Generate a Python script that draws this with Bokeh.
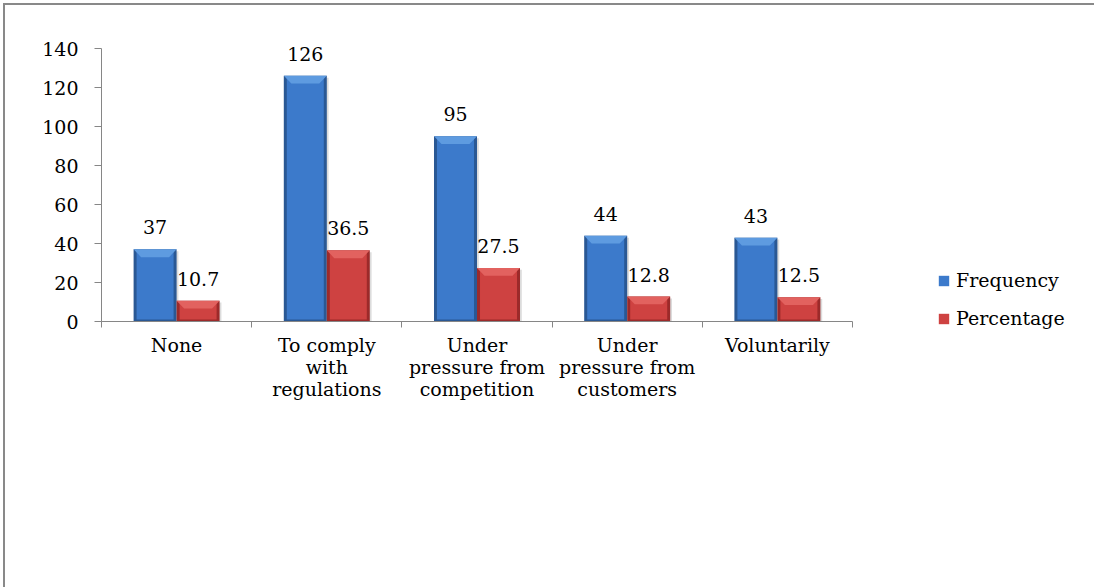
from bokeh.plotting import figure
from bokeh.models import (ColumnDataSource, FixedTicker, LabelSet, Legend, LegendItem, Range1d)
from bokeh.core.properties import value
from bokeh.embed import file_html
from bokeh.resources import INLINE

# Survey data: reason for adopting the practice
categories = ["None", "To comply\nwith\nregulations", "Under\npressure from\ncompetition",
              "Under\npressure from\ncustomers", "Voluntarily"]
frequency = [37, 126, 95, 44, 43]
percentage = [10.7, 36.5, 27.5, 12.8, 12.5]
y_ticks = [0, 20, 40, 60, 80, 100, 120, 140]
series_names = ["Frequency", "Percentage"]

FONT = "DejaVu Serif"
FONT_SIZE = "19px"
AXIS_GREY = "#868686"

# canvas geometry (pixels)
LEFT, BOTTOM = 96, 266
FRAME_W, FRAME_H = 751, 316
PLOT_H = 273            # pixel height of the 0..140 span
Y_MAX = 140
y_end = Y_MAX * FRAME_H / PLOT_H   # frame reaches the canvas top so labels are not clipped

# bar geometry in axis units (one category = 1 unit)
BAR_W = 0.2863
EDGE = 0.02      # dark side rim
BEVEL_X = 0.05   # bevel inset at the top corners
BEVEL_Y = 4.0    # bevel depth

palettes = {
    "Frequency": dict(dark="#2A5894", main="#3C7ACB", light="#5E9BE0", offset=-BAR_W / 2),
    "Percentage": dict(dark="#9C2A2A", main="#CE4241", light="#E2625F", offset=BAR_W / 2),
}

p = figure(frame_width=FRAME_W, frame_height=FRAME_H, output_backend="svg", toolbar_location=None,
           x_range=Range1d(0, len(categories)), y_range=Range1d(0, y_end), title=None,
           min_border_left=LEFT, min_border_right=0, min_border_top=0,
           min_border_bottom=BOTTOM)
p.background_fill_color = "white"
p.border_fill_color = "white"
p.outline_line_color = None
p.grid.grid_line_color = None
p.styles = {"border-top": "2px solid #898989", "border-left": "2px solid #898989",
            "margin-left": "3px", "margin-top": "3px"}

legend_items = []
for name, values in zip(series_names, [frequency, percentage]):
    pal = palettes[name]
    xs = [i + 0.5 + pal["offset"] for i in range(len(categories))]
    src = ColumnDataSource(dict(
        x=xs, top=values, inner_top=[v - 0.6 for v in values],
        x_shadow=[x + 0.012 for x in xs], shadow_top=[v - 1.0 for v in values],
        label=[str(v) for v in values],
    ))
    # soft drop shadow
    p.vbar(x="x_shadow", top="shadow_top", bottom=0, width=BAR_W, source=src,
           fill_color="#9a9a9a", fill_alpha=0.35, line_color=None)
    # dark rim
    p.vbar(x="x", top="top", bottom=0, width=BAR_W, source=src,
           fill_color=pal["dark"], line_color=None)
    # body
    body = p.vbar(x="x", top="inner_top", bottom=1.0, width=BAR_W - 2 * EDGE, source=src,
                  fill_color=pal["main"], line_color=None)
    # bevelled top face
    bx = [[x - BAR_W / 2, x + BAR_W / 2, x + BAR_W / 2 - BEVEL_X, x - BAR_W / 2 + BEVEL_X] for x in xs]
    by = [[v, v, v - BEVEL_Y, v - BEVEL_Y] for v in values]
    p.patches(xs=bx, ys=by, fill_color=pal["light"], line_color=None)
    legend_items.append(LegendItem(label=name, renderers=[body]))

    labels = LabelSet(x="x", y="top", text="label", source=src, y_offset=22,
                      text_align="center", text_baseline="middle",
                      text_font=value(FONT), text_font_size=value(FONT_SIZE), text_color="black")
    p.add_layout(labels)

# y axis
yax = p.yaxis[0]
yax.ticker = FixedTicker(ticks=y_ticks, minor_ticks=[])
yax.bounds = (0, Y_MAX)
yax.axis_line_color = AXIS_GREY
yax.major_tick_line_color = AXIS_GREY
yax.major_tick_out = 7
yax.major_tick_in = 0
yax.minor_tick_line_color = None
yax.major_label_standoff = 16
yax.major_label_text_font = FONT
yax.major_label_text_font_size = FONT_SIZE
yax.major_label_text_color = "black"

# x axis: labels at category centres, ticks at category boundaries
xax = p.xaxis[0]
centres = [i + 0.5 for i in range(len(categories))]
xax.ticker = FixedTicker(ticks=centres, minor_ticks=list(range(len(categories) + 1)))
xax.major_label_overrides = {c: lab for c, lab in zip(centres, categories)}
xax.axis_line_color = AXIS_GREY
xax.major_tick_line_color = None
xax.major_tick_out = 6
xax.major_tick_in = 0
xax.minor_tick_line_color = AXIS_GREY
xax.minor_tick_out = 6
xax.minor_tick_in = 0
xax.major_label_standoff = 6
xax.major_label_text_font = FONT
xax.major_label_text_font_size = FONT_SIZE
xax.major_label_text_line_height = 1.02
xax.major_label_text_color = "black"
xax.major_label_orientation = "horizontal"

legend = Legend(items=legend_items, location=(85, -8), orientation="vertical",
                padding=0, margin=0, spacing=16, glyph_width=13, glyph_height=13,
                label_height=20, label_standoff=6, border_line_color=None,
                background_fill_alpha=0, label_text_font=FONT,
                label_text_font_size=FONT_SIZE, label_text_color="black")
p.add_layout(legend, "right")

open("out.html", "w").write(file_html(p, INLINE))
